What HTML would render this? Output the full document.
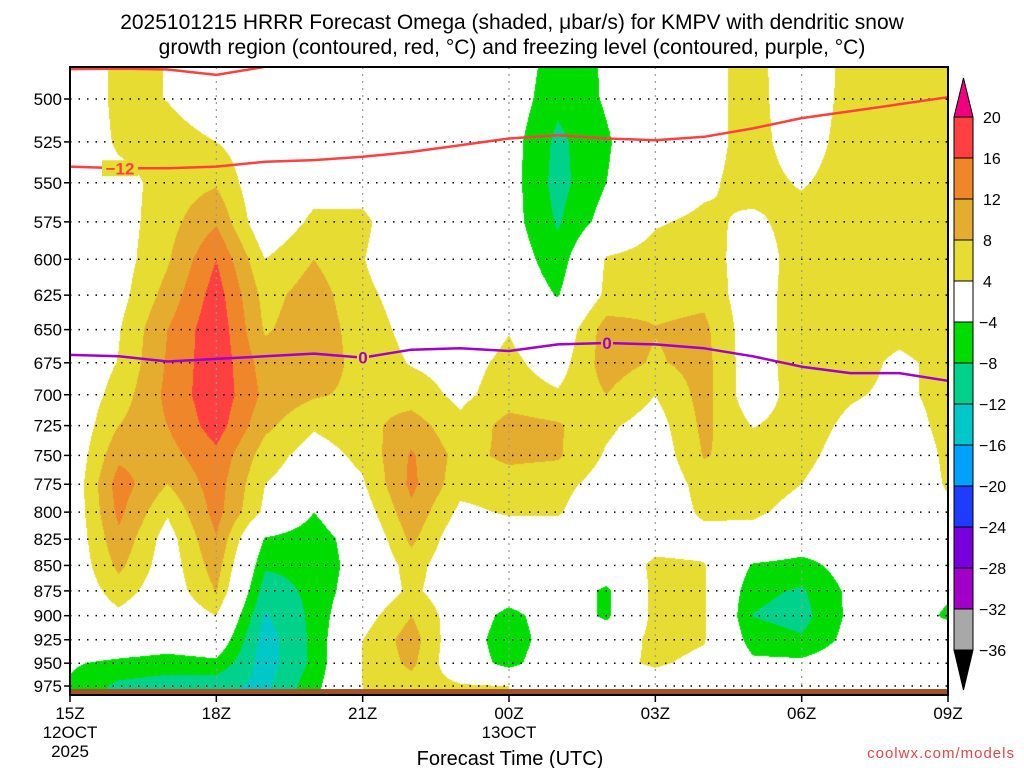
<!DOCTYPE html>
<html><head><meta charset="utf-8">
<style>
html,body{margin:0;padding:0;background:#fff;}
#wrap{position:relative;width:1024px;height:768px;overflow:hidden;font-family:"Liberation Sans",sans-serif;}
#fill{position:absolute;left:70px;top:67px;}
svg{position:absolute;left:0;top:0;}
</style></head>
<body>
<div id="wrap">
<canvas id="fill" width="878" height="622"></canvas>
<svg id="ov" width="1024" height="768"></svg>
</div>
<script>
// ---- data ----
const hours = [0,1,2,3,4,5,6,7,8,9,10,11,12,13,14,15,16,17,18];
const levels = [475,500,525,550,575,600,625,650,675,700,725,750,775,800,825,850,875,900,925,950,975,1000];
const omega_c0  = [-3,-3,-2,0,0,0,0,0,0,0,0,0,0,0,0,0,0,0,0,-3.5,-4.5,-4.5];
const omega_c1  = [6,6,5,2,2,2,2.4,3.7,4.2,5.8,8,11,14,13,11,9,6,3,0,-5,-9,-9];
const omega_c2  = [3.8,3.8,6.5,6,6.5,7.5,9.5,12,12.5,13,12,10.5,8,4.5,2,1.5,1,0,-1,-6,-10,-10];
const omega_c3  = [0,0,4,7.5,11.5,16,18,19,19,19,18,15,14,13.5,11.8,10,8.2,4,0,-5,-11,-11];
const omega_c4  = [0,0,1,0,0,4,6.5,7.5,10,11,9,6,4,3,-4.5,-7.5,-10,-12.5,-14,-14,-13,-13];
const omega_c5  = [0,0,0,2,5,8,10,10.5,10.5,8.5,4.5,2,1,-4,-6.5,-7,-7,-7,-7,-7,-5.5,-5];
const omega_c6  = [0,0,0,2,5,4.2,5,6,6.5,7,6.5,5,3.5,1.5,-1,-1.5,-0.5,2,4,4.2,4,4];
const omega_c7  = [0,0,0,0,0,0,2,2.7,3.7,6,10,12.5,13,11,9,6,5,8,10,9,6,6];
const omega_c8  = [0,0,0,0,0,0,0,1,2.5,3,5,6.5,5.5,3,0.5,0,0.5,1,0,0,4.5,4.5];
const omega_c9  = [-0.5,-1,-2,-2,-2,-1,0,3.8,5,6,9.5,9,6,4.5,1,0,0,-6,-7.5,-6,4,4];
const omega_c10 = [-6,-7,-9,-9.5,-8.5,-6.5,-4.3,0,2,4.5,8.5,8.5,5.5,4.5,1,0,0,0,0,1,2,2];
const omega_c11 = [-3.5,-3.5,-4.5,-4,-2,4.5,5,10,10,8,4.8,3.5,2,0,0,0,-5,-5,0,3,1,1];
const omega_c12 = [0,0,0,0,3.5,6,6.5,8.2,7.5,4,2,1,0,0,2,5,5.5,5.5,5.5,4.5,2,2];
const omega_c13 = [2,2,2,3,5,6.5,7,9,9.5,9.5,9,8.3,6,5,2,4.3,4.5,4.5,4.3,3,0,0];
const omega_c14 = [6,6,6,6,3,1,1,1,1,1,3.8,6,6.5,5,1.5,-4.5,-7,-8.1,-6,-3,0,0];
const omega_c15 = [-0.5,0,1,3.5,6,6.5,7,7,7,6.5,6,5.2,4,2,-1,-5.5,-8.5,-9.5,-7.5,-3,0,0];
const omega_c16 = [6,6,6.5,6.5,6.5,6.5,6.5,6.5,6,4.5,3,2,1,0,-2,-2,-3,-3,-2.5,-1,0,0];
const omega_c17 = [6.5,6.5,6.5,6.5,6.5,6.5,6.5,5.5,3,3,1.5,0,0,0,0,0,0,0,0,0,0,0];
const omega_c18 = [7,7,7,7,7,7,7,7,5.5,5.5,5.5,5,4.5,3,1,0,-3,-5,0,0,0,0];
const omegaCols = [omega_c0,omega_c1,omega_c2,omega_c3,omega_c4,omega_c5,omega_c6,omega_c7,omega_c8,omega_c9,omega_c10,omega_c11,omega_c12,omega_c13,omega_c14,omega_c15,omega_c16,omega_c17,omega_c18];
const dgzTop = [483.3,483,483.5,486.5,482,476,474,472,470,468,466,464,462,460,458,456,454,452,450];
const dgzMain = [540,541,541,540,537,536,534,531,527,523,521,523,524,522,517,511,507,503,499];
const frzLevel = [669,670,674,672,670,668,671,665,664,666,661,660,661,664,670,678,683,683,689];
const pTicks = [500,525,550,575,600,625,650,675,700,725,750,775,800,825,850,875,900,925,950,975];
const tTickHours = [0,3,6,9,12,15,18];
const tTickLabels = ["15Z","18Z","21Z","00Z","03Z","06Z","09Z"];
const cbLevels = [20,16,12,8,4,-4,-8,-12,-16,-20,-24,-28,-32,-36];
const cbColors = ["#ff4040","#f0862a","#e5ad2f","#e6dc32","#ffffff","#00dc00","#00d28c","#00c8c8","#00a0ff","#1e3cff","#7800dc","#a000c8","#a8a8a8"];
const cbTopColor = "#f0007f", cbBotColor = "#000000";

// ---- axes ----
const X0=70,X1=948,Y0=67,Y1=695,GROUND=689;
function xH(h){return X0+h*(X1-X0)/18;}
function yP(p){return 99+879*Math.log(p/500);}
function colorFor(v){
  if(v>=20)return cbTopColor;
  for(let i=0;i<cbLevels.length-1;i++){ if(v>=cbLevels[i+1]) return cbColors[i]; }
  return cbBotColor;
}
// ---- shading ----
(function(){
  const cv=document.getElementById('fill'),ctx=cv.getContext('2d');
  const W=cv.width,H=GROUND-Y0;
  const img=ctx.createImageData(W,cv.height);
  const rowY=levels.map(yP);
  const cache={};
  function rgb(c){if(cache[c])return cache[c];const n=parseInt(c.slice(1),16);return cache[c]=[n>>16,(n>>8)&255,n&255];}
  for(let py=0;py<H;py++){
    const y=Y0+py+0.5;
    let j=0; while(j<rowY.length-2 && y>rowY[j+1]) j++;
    const fy=Math.max(0,Math.min(1,(y-rowY[j])/(rowY[j+1]-rowY[j])));
    for(let px=0;px<W;px++){
      const h=(px+0.5)*18/(X1-X0);
      let i=Math.min(17,Math.floor(h)); const fx=h-i;
      const a=omegaCols[i][j],b=omegaCols[i+1][j],c=omegaCols[i][j+1],d=omegaCols[i+1][j+1];
      const v=(a*(1-fx)+b*fx)*(1-fy)+(c*(1-fx)+d*fx)*fy;
      const col=rgb(colorFor(v));const k=(py*W+px)*4;
      img.data[k]=col[0];img.data[k+1]=col[1];img.data[k+2]=col[2];img.data[k+3]=255;
    }
  }
  ctx.putImageData(img,0,0);
})();
// ---- overlay ----
const NS='http://www.w3.org/2000/svg',svg=document.getElementById('ov');
function el(tag,attrs,parent){const e=document.createElementNS(NS,tag);for(const k in attrs)e.setAttribute(k,attrs[k]);(parent||svg).appendChild(e);return e;}
function txt(s,attrs){const t=el('text',attrs);t.textContent=s;return t;}

let g=el('rect',{x:X0,y:GROUND,width:X1-X0,height:Y1-GROUND,fill:'#a0522d'});


pTicks.forEach(p=>{
  const l=el('line',{x1:X0,x2:X1,y1:yP(p),y2:yP(p),stroke:'#000','stroke-width':1.5,'stroke-dasharray':'1.5 7'});
  
  
  const tk=el('line',{x1:X0-6,x2:X0,y1:yP(p),y2:yP(p),stroke:'#000','stroke-width':1.5});
  
  
  const t=txt(String(p),{x:X0-8,y:yP(p)+6,'text-anchor':'end','font-size':17,fill:'#000'});
  
  
});
tTickHours.forEach((h,i)=>{
  if(i>0&&i<tTickHours.length-1){
    const l=el('line',{x1:xH(h),x2:xH(h),y1:Y0,y2:GROUND,stroke:'#999','stroke-width':1.2,'stroke-dasharray':'2 5'});
    
    
  }
  const tk=el('line',{x1:xH(h),x2:xH(h),y1:Y1,y2:Y1+7,stroke:'#000','stroke-width':1.5});
  
  
  const t=txt(tTickLabels[i],{x:xH(h),y:719,'text-anchor':'middle','font-size':17,fill:'#000'});
  
  
});
[[0,'12OCT',738],[0,'2025',757],[9,'13OCT',738]].forEach(a=>{
  const t=txt(a[1],{x:xH(a[0]),y:a[2],'text-anchor':'middle','font-size':17,fill:'#000'});
  
  
});
function line(arr,color,name){
  const pts=arr.map((p,i)=>xH(hours[i]).toFixed(1)+','+yP(p).toFixed(1)).join(' ');
  const pl=el('polyline',{points:pts,fill:'none',stroke:color,'stroke-width':2.5,'stroke-linejoin':'round'});
  
  
  return pl;
}
const clip=el('clipPath',{id:'pc'});el('rect',{x:X0,y:Y0,width:X1-X0,height:Y1-Y0},clip);
line(dgzTop,'#ff4040','dgz-upper-contour').setAttribute('clip-path','url(#pc)');
line(dgzMain,'#ff4040','dgz-minus12-contour');
line(frzLevel,'#a000d0','freezing-level-contour');
function clabel(s,x,y,color,name,bg){
  if(bg){const r=el('rect',{x:x-s.length*6,y:y-8,width:s.length*12,height:16,fill:bg});
    
    }
  const t=txt(s,{x:x,y:y+6,'text-anchor':'middle','font-size':17,'font-weight':'bold',fill:color});
  
  
}
clabel('−12',120,yP(dgzMain[1]),'#ff4040','dgz-contour-label','#e6dc32');
clabel('0',363,yP(frzLevel[6]),'#a000d0','freezing-contour-label','#e6dc32');
clabel('0',607,yP(frzLevel[11]),'#a000d0','freezing-contour-label','#e5ad2f');
const fr=el('rect',{x:X0,y:Y0,width:X1-X0,height:Y1-Y0,fill:'none',stroke:'#000','stroke-width':2});


const CBX=954,CBW=19,CBT=117,CBH=41;
const tri1=el('polygon',{points:`${CBX},${CBT} ${CBX+CBW},${CBT} ${CBX+CBW/2},78`,fill:cbTopColor,stroke:'#000','stroke-width':1});


cbColors.forEach((c,i)=>{
  const r=el('rect',{x:CBX,y:CBT+i*CBH,width:CBW,height:CBH,fill:c,stroke:'#000','stroke-width':1});
  
  
});
const yb=CBT+cbColors.length*CBH;
const tri2=el('polygon',{points:`${CBX},${yb} ${CBX+CBW},${yb} ${CBX+CBW/2},${yb+40}`,fill:cbBotColor,stroke:'#000','stroke-width':1});


cbLevels.forEach((v,i)=>{
  const t=txt(v<0?'−'+(-v):String(v),{x:v<0?979:983,y:CBT+i*CBH+6,'font-size':16,fill:'#000'});
  
  
});
[['2025101215 HRRR Forecast Omega (shaded, μbar/s) for KMPV with dendritic snow',29],
 ['growth region (contoured, red, °C) and freezing level (contoured, purple, °C)',54]].forEach(a=>{
  const t=txt(a[0],{x:512,y:a[1],'text-anchor':'middle','font-size':21,fill:'#000'});
  
  
});
const xt=txt('Forecast Time (UTC)',{x:510,y:765,'text-anchor':'middle','font-size':20,fill:'#000'});


const cr=txt('coolwx.com/models',{x:1015,y:758,'text-anchor':'end','font-size':15,fill:'#e04848','letter-spacing':'1'});


</script>
</body></html>
